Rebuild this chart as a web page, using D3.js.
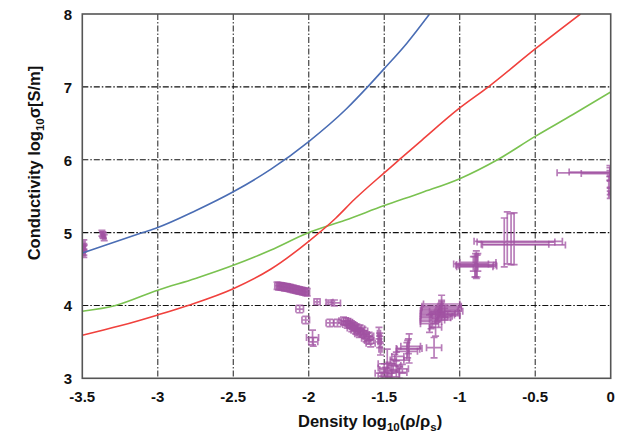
<!DOCTYPE html>
<html>
<head>
<meta charset="utf-8">
<script src="https://cdn.jsdelivr.net/npm/d3@7"></script>
<style>
  body { margin: 0; background: #fff; }
  text { font-family: "Liberation Sans", Arial, sans-serif; font-weight: bold; fill: #111; }
</style>
</head>
<body>
<svg id="chart" width="630" height="435"></svg>
<script>
// Axis ticks
const xTicks = [-3.5, -3, -2.5, -2, -1.5, -1, -0.5, 0];
const xTickLabels = ["-3.5", "-3", "-2.5", "-2", "-1.5", "-1", "-0.5", "0"];
const yTicks = [3, 4, 5, 6, 7, 8];
const yTickLabels = ["3", "4", "5", "6", "7", "8"];

// Model curves: [log10(rho/rho_s), log10(sigma)]
const blueCurve = [
  [-3.5, 4.72], [-3.3, 4.86], [-3.1, 5.0], [-3.0, 5.07], [-2.75, 5.3], [-2.5, 5.56],
  [-2.25, 5.87], [-2.0, 6.25], [-1.75, 6.7], [-1.61, 7.0], [-1.5, 7.25], [-1.35, 7.6], [-1.2, 8.0]
];
const redCurve = [
  [-3.5, 3.59], [-3.25, 3.72], [-3.0, 3.87], [-2.8, 4.0], [-2.5, 4.23], [-2.25, 4.5],
  [-2.0, 4.88], [-1.82, 5.2], [-1.7, 5.45], [-1.5, 5.82], [-1.4, 6.0], [-1.25, 6.27],
  [-1.0, 6.71], [-0.81, 7.0], [-0.5, 7.52], [-0.2, 8.0]
];
const greenCurve = [
  [-3.5, 3.92], [-3.28, 4.0], [-3.0, 4.21], [-2.75, 4.37], [-2.5, 4.55], [-2.25, 4.76],
  [-2.0, 5.0], [-1.76, 5.17], [-1.5, 5.37], [-1.25, 5.55], [-1.0, 5.74], [-0.75, 6.0],
  [-0.5, 6.32], [-0.25, 6.62], [0.0, 6.93]
];

// Measurements: [x, y, dxMinus, dxPlus, dyMinus, dyPlus]
const measurements = [
  // very low density
  [-3.49, 4.86, 0.008, 0.008, 0.04, 0.04], [-3.49, 4.81, 0.008, 0.008, 0.04, 0.04],
  [-3.495, 4.77, 0.008, 0.008, 0.04, 0.04], [-3.49, 4.73, 0.008, 0.008, 0.04, 0.04],
  [-3.49, 4.70, 0.008, 0.008, 0.04, 0.04], [-3.488, 4.79, 0.008, 0.008, 0.04, 0.04],
  [-3.37, 4.99, 0.01, 0.01, 0.04, 0.04], [-3.36, 4.96, 0.01, 0.01, 0.04, 0.04],
  [-3.355, 4.93, 0.01, 0.01, 0.04, 0.04], [-3.365, 4.97, 0.01, 0.01, 0.04, 0.04],
  // band near -2.1
  [-2.21, 4.27, 0.015, 0.015, 0.05, 0.05], [-2.20, 4.265, 0.015, 0.015, 0.05, 0.05],
  [-2.19, 4.265, 0.015, 0.015, 0.05, 0.05], [-2.18, 4.26, 0.015, 0.015, 0.05, 0.05],
  [-2.17, 4.255, 0.015, 0.015, 0.05, 0.05], [-2.16, 4.25, 0.015, 0.015, 0.05, 0.05],
  [-2.15, 4.25, 0.015, 0.015, 0.05, 0.05], [-2.14, 4.245, 0.015, 0.015, 0.05, 0.05],
  [-2.13, 4.24, 0.015, 0.015, 0.05, 0.05], [-2.12, 4.235, 0.015, 0.015, 0.05, 0.05],
  [-2.11, 4.23, 0.015, 0.015, 0.05, 0.05], [-2.10, 4.225, 0.015, 0.015, 0.05, 0.05],
  [-2.09, 4.22, 0.015, 0.015, 0.05, 0.05], [-2.08, 4.215, 0.015, 0.015, 0.05, 0.05],
  [-2.07, 4.21, 0.015, 0.015, 0.05, 0.05], [-2.06, 4.205, 0.015, 0.015, 0.05, 0.05],
  [-2.05, 4.20, 0.015, 0.015, 0.05, 0.05], [-2.04, 4.195, 0.015, 0.015, 0.05, 0.05],
  [-2.03, 4.19, 0.015, 0.015, 0.05, 0.05], [-2.02, 4.185, 0.015, 0.015, 0.05, 0.05],
  [-2.01, 4.18, 0.015, 0.015, 0.05, 0.05],
  [-2.06, 3.95, 0.025, 0.025, 0.05, 0.05], [-2.02, 3.80, 0.025, 0.025, 0.05, 0.05],
  [-1.975, 3.56, 0.04, 0.04, 0.1, 0.1], [-1.97, 3.50, 0.03, 0.03, 0.06, 0.06],
  [-1.945, 4.05, 0.02, 0.02, 0.04, 0.04], [-1.87, 4.045, 0.015, 0.03, 0.03, 0.03],
  [-1.83, 4.035, 0.02, 0.04, 0.04, 0.04],
  [-1.86, 3.76, 0.025, 0.025, 0.05, 0.05], [-1.81, 3.76, 0.025, 0.025, 0.05, 0.05],
  // descending cluster
  [-1.77, 3.79, 0.03, 0.03, 0.05, 0.05], [-1.755, 3.78, 0.03, 0.03, 0.05, 0.05],
  [-1.74, 3.77, 0.03, 0.03, 0.05, 0.05], [-1.73, 3.75, 0.03, 0.03, 0.05, 0.05],
  [-1.72, 3.74, 0.03, 0.03, 0.05, 0.05], [-1.71, 3.72, 0.03, 0.03, 0.05, 0.05],
  [-1.70, 3.71, 0.03, 0.03, 0.05, 0.05], [-1.69, 3.66, 0.03, 0.03, 0.05, 0.05],
  [-1.68, 3.69, 0.03, 0.03, 0.05, 0.05], [-1.66, 3.68, 0.03, 0.03, 0.05, 0.05],
  [-1.67, 3.64, 0.03, 0.03, 0.05, 0.05], [-1.65, 3.62, 0.03, 0.03, 0.05, 0.05],
  [-1.64, 3.65, 0.03, 0.03, 0.05, 0.05], [-1.63, 3.60, 0.03, 0.03, 0.05, 0.05],
  [-1.62, 3.55, 0.03, 0.03, 0.05, 0.05], [-1.61, 3.57, 0.03, 0.03, 0.05, 0.05],
  [-1.60, 3.52, 0.03, 0.03, 0.05, 0.05], [-1.59, 3.48, 0.03, 0.03, 0.05, 0.05],
  [-1.60, 3.58, 0.03, 0.03, 0.05, 0.05], [-1.745, 3.74, 0.03, 0.03, 0.05, 0.05],
  [-1.715, 3.69, 0.03, 0.03, 0.05, 0.05], [-1.665, 3.61, 0.03, 0.03, 0.05, 0.05],
  [-1.535, 3.62, 0.01, 0.01, 0.08, 0.08], [-1.53, 3.50, 0.01, 0.01, 0.08, 0.08],
  [-1.525, 3.40, 0.01, 0.01, 0.08, 0.08], [-1.53, 3.56, 0.01, 0.01, 0.06, 0.06],
  // minimum near -1.5
  [-1.48, 3.20, 0.06, 0.06, 0.2, 0.2], [-1.49, 3.07, 0.07, 0.07, 0.08, 0.08],
  [-1.47, 3.12, 0.06, 0.06, 0.1, 0.1], [-1.45, 3.10, 0.05, 0.05, 0.1, 0.1],
  [-1.43, 3.25, 0.03, 0.06, 0.08, 0.08], [-1.44, 3.18, 0.04, 0.05, 0.08, 0.08],
  [-1.51, 3.03, 0.03, 0.03, 0.05, 0.05], [-1.46, 3.02, 0.06, 0.06, 0.05, 0.05],
  [-1.50, 3.14, 0.04, 0.04, 0.06, 0.06], [-1.42, 3.30, 0.03, 0.05, 0.06, 0.06],
  [-1.40, 3.08, 0.05, 0.05, 0.08, 0.08], [-1.38, 3.13, 0.04, 0.04, 0.06, 0.06],
  [-1.335, 3.41, 0.085, 0.085, 0.2, 0.2], [-1.35, 3.37, 0.07, 0.07, 0.12, 0.12],
  [-1.34, 3.44, 0.05, 0.08, 0.1, 0.1], [-1.345, 3.40, 0.07, 0.08, 0.12, 0.12],
  [-1.17, 3.42, 0.05, 0.05, 0.14, 0.14],
  // rising cluster near -1.1
  [-1.12, 4.02, 0.12, 0.12, 0.12, 0.12], [-1.12, 3.99, 0.13, 0.13, 0.08, 0.08],
  [-1.12, 3.97, 0.13, 0.13, 0.08, 0.08], [-1.125, 3.95, 0.13, 0.12, 0.08, 0.08],
  [-1.13, 3.93, 0.13, 0.12, 0.08, 0.08], [-1.135, 3.91, 0.12, 0.12, 0.08, 0.08],
  [-1.14, 3.89, 0.12, 0.11, 0.08, 0.08], [-1.145, 3.87, 0.11, 0.11, 0.08, 0.08],
  [-1.15, 3.85, 0.11, 0.10, 0.08, 0.08], [-1.16, 3.83, 0.10, 0.10, 0.08, 0.08],
  [-1.18, 3.80, 0.08, 0.08, 0.1, 0.1], [-1.19, 3.78, 0.07, 0.07, 0.1, 0.1],
  [-1.20, 3.75, 0.06, 0.06, 0.12, 0.12], [-1.16, 3.70, 0.04, 0.04, 0.12, 0.12],
  [-1.10, 3.92, 0.10, 0.12, 0.08, 0.08], [-1.08, 3.86, 0.08, 0.08, 0.06, 0.06],
  [-1.10, 3.88, 0.09, 0.10, 0.08, 0.08],
  // near -0.9
  [-0.89, 4.56, 0.13, 0.13, 0.19, 0.19], [-0.90, 4.53, 0.12, 0.12, 0.14, 0.14],
  [-0.88, 4.59, 0.12, 0.12, 0.12, 0.12], [-0.91, 4.57, 0.13, 0.10, 0.1, 0.1],
  [-0.895, 4.55, 0.13, 0.12, 0.16, 0.16], [-0.885, 4.54, 0.12, 0.13, 0.15, 0.15],
  // wide uncertainty near -0.7
  [-0.705, 4.88, 0.20, 0.385, 0.35, 0.32], [-0.685, 4.87, 0.20, 0.315, 0.30, 0.415],
  [-0.66, 4.84, 0.197, 0.25, 0.28, 0.42], [-0.64, 4.83, 0.21, 0.34, 0.27, 0.44],
  // solid density
  [-0.005, 5.82, 0.35, 0.02, 0.1, 0.1], [-0.005, 5.83, 0.27, 0.02, 0.06, 0.06],
  [-0.005, 5.81, 0.19, 0.02, 0.04, 0.04],
  [-0.003, 5.75, 0.01, 0.01, 0.04, 0.04], [-0.003, 5.66, 0.01, 0.01, 0.05, 0.05],
  [-0.003, 5.57, 0.01, 0.01, 0.05, 0.05], [-0.003, 5.52, 0.01, 0.01, 0.05, 0.05]
];

const svg = d3.select("#chart");
const plot = { left: 82.3, right: 610.7, top: 14, bottom: 378.3 };

const x = d3.scaleLinear().domain([-3.5, 0]).range([plot.left, plot.right]);
const y = d3.scaleLinear().domain([3, 8]).range([plot.bottom, plot.top]);

svg.append("defs").append("clipPath").attr("id", "plot-clip")
  .append("rect")
  .attr("x", plot.left).attr("y", plot.top)
  .attr("width", plot.right - plot.left).attr("height", plot.bottom - plot.top);

// Grid (dash-dot)
const grid = svg.append("g");
grid.selectAll("line.v").data(xTicks.slice(1, -1)).join("line")
  .attr("x1", d => x(d)).attr("x2", d => x(d))
  .attr("y1", plot.top).attr("y2", plot.bottom)
  .attr("stroke", "#333").attr("stroke-width", 1.1)
  .attr("stroke-dasharray", "6,2,1.5,2");
grid.selectAll("line.h").data(yTicks.slice(1, -1)).join("line")
  .attr("x1", plot.left).attr("x2", plot.right)
  .attr("y1", d => y(d)).attr("y2", d => y(d))
  .attr("stroke", "#111").attr("stroke-width", 1.1)
  .attr("stroke-dasharray", "6,2,1.5,2");

const inner = svg.append("g").attr("clip-path", "url(#plot-clip)");

// Error-bar measurements
const purple = "#a052a2";
const cap = 3.5;
const eb = inner.append("g")
  .attr("stroke", purple).attr("stroke-width", 1.7).attr("stroke-opacity", 0.75)
  .attr("fill", "none");
eb.selectAll("path").data(measurements).join("path")
  .attr("d", d => {
    const [mx, my, xm, xp, ym, yp] = d;
    const cx = x(mx), cy = y(my);
    const x0 = x(mx - xm), x1 = x(mx + xp);
    const y0 = y(my - ym), y1 = y(my + yp);
    return `M${x0},${cy}H${x1}` +
      `M${x0},${cy - cap}V${cy + cap}M${x1},${cy - cap}V${cy + cap}` +
      `M${cx},${y0}V${y1}` +
      `M${cx - cap},${y0}H${cx + cap}M${cx - cap},${y1}H${cx + cap}`;
  });

// Model curves
const line = d3.line().x(d => x(d[0])).y(d => y(d[1])).curve(d3.curveMonotoneX);
[[greenCurve, "#7ac250"], [redCurve, "#f0413d"], [blueCurve, "#4a6db4"]].forEach(([data, color]) => {
  inner.append("path").datum(data)
    .attr("d", line).attr("fill", "none")
    .attr("stroke", color).attr("stroke-width", 1.6);
});

// Frame
svg.append("rect")
  .attr("x", plot.left).attr("y", plot.top)
  .attr("width", plot.right - plot.left).attr("height", plot.bottom - plot.top)
  .attr("fill", "none").attr("stroke", "#555").attr("stroke-width", 1.6);

// Tick labels
svg.append("g").selectAll("text").data(xTicks).join("text")
  .attr("x", d => x(d)).attr("y", plot.bottom + 24)
  .attr("text-anchor", "middle").attr("font-size", 15)
  .text((d, i) => xTickLabels[i]);
svg.append("g").selectAll("text").data(yTicks).join("text")
  .attr("x", 72).attr("y", d => y(d) + 6)
  .attr("text-anchor", "end").attr("font-size", 15)
  .text((d, i) => yTickLabels[i]);

// Axis titles
const xt = svg.append("text").attr("x", 298).attr("y", 427).attr("font-size", 16.5);
xt.append("tspan").text("Density log");
xt.append("tspan").attr("font-size", 11.5).attr("dy", 4).text("10");
xt.append("tspan").attr("dy", -4).text("(ρ/ρ");
xt.append("tspan").attr("font-size", 11.5).attr("dy", 4).text("s");
xt.append("tspan").attr("dy", -4).text(")");

const yt = svg.append("text")
  .attr("transform", "translate(40,163) rotate(-90)")
  .attr("text-anchor", "middle").attr("font-size", 16.5);
yt.append("tspan").text("Conductivity log");
yt.append("tspan").attr("font-size", 11.5).attr("dy", 4).text("10");
yt.append("tspan").attr("dy", -4).text("σ[S/m]");
</script>
</body>
</html>
